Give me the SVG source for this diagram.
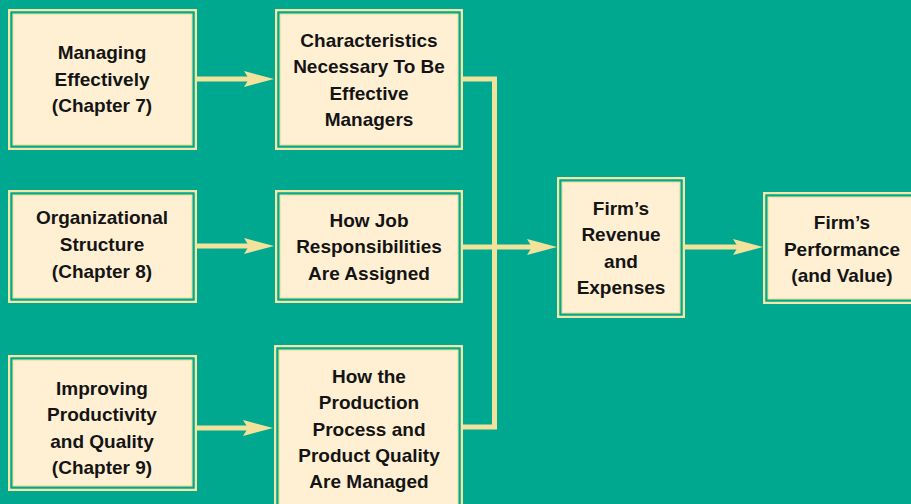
<svg xmlns="http://www.w3.org/2000/svg" width="911" height="504" viewBox="0 0 911 504">
<style>
.bg{fill:#00A88F}
.o{fill:none;stroke:#F5E6A3;stroke-width:2.5}
.m{fill:none;stroke:#00A88F;stroke-width:2}
.i{fill:#FFF0D4;stroke:#F5E6A3;stroke-width:1.5}
.t{font-family:"Liberation Sans",Arial,sans-serif;font-weight:bold;font-size:19px;fill:#141414;text-anchor:middle}
.c{fill:none;stroke:#F3E29C;stroke-width:5}
</style>
<defs>
<marker id="ah" viewBox="0 0 30 16" refX="5" refY="8" markerWidth="30" markerHeight="16" markerUnits="userSpaceOnUse" orient="auto">
<path d="M0,0 L30,8 L0,16 L5,8 Z" fill="#F3E29C"/>
</marker>
</defs>
<rect class="bg" x="0" y="0" width="911" height="504"/>

<g id="connectors">
<line class="c" x1="197" y1="79" x2="249" y2="79" marker-end="url(#ah)"/>
<line class="c" x1="197" y1="246" x2="249" y2="246" marker-end="url(#ah)"/>
<line class="c" x1="197" y1="428" x2="248" y2="428" marker-end="url(#ah)"/>
<polyline class="c" points="463,79 494.5,79 494.5,427 463,427"/>
<line class="c" x1="463" y1="247" x2="532" y2="247" marker-end="url(#ah)"/>
<line class="c" x1="685" y1="247" x2="738" y2="247" marker-end="url(#ah)"/>
</g>

<g id="managing">
<rect class="o" x="9.25" y="10.25" width="186.5" height="138.5"/>
<rect class="m" x="11.5" y="12.5" width="182" height="134"/>
<rect class="i" x="13.25" y="14.25" width="178.5" height="130.5"/>
<text class="t" x="102" y="59">Managing</text>
<text class="t" x="102" y="86">Effectively</text>
<text class="t" x="102" y="112">(Chapter 7)</text>
</g>

<g id="organizational">
<rect class="o" x="9.25" y="191.25" width="186.5" height="110.5"/>
<rect class="m" x="11.5" y="193.5" width="182" height="106"/>
<rect class="i" x="13.25" y="195.25" width="178.5" height="102.5"/>
<text class="t" x="102" y="224">Organizational</text>
<text class="t" x="102" y="251">Structure</text>
<text class="t" x="102" y="278">(Chapter 8)</text>
</g>

<g id="improving">
<rect class="o" x="9.25" y="356.25" width="186.5" height="133.5"/>
<rect class="m" x="11.5" y="358.5" width="182" height="129"/>
<rect class="i" x="13.25" y="360.25" width="178.5" height="125.5"/>
<text class="t" x="102" y="395">Improving</text>
<text class="t" x="102" y="421">Productivity</text>
<text class="t" x="102" y="448">and Quality</text>
<text class="t" x="102" y="474">(Chapter 9)</text>
</g>

<g id="characteristics">
<rect class="o" x="276.25" y="10.25" width="185.5" height="138.5"/>
<rect class="m" x="278.5" y="12.5" width="181" height="134"/>
<rect class="i" x="280.25" y="14.25" width="177.5" height="130.5"/>
<text class="t" x="369" y="47">Characteristics</text>
<text class="t" x="369" y="73">Necessary To Be</text>
<text class="t" x="369" y="100">Effective</text>
<text class="t" x="369" y="126">Managers</text>
</g>

<g id="howjob">
<rect class="o" x="276.25" y="191.25" width="185.5" height="110.5"/>
<rect class="m" x="278.5" y="193.5" width="181" height="106"/>
<rect class="i" x="280.25" y="195.25" width="177.5" height="102.5"/>
<text class="t" x="369" y="227">How Job</text>
<text class="t" x="369" y="253">Responsibilities</text>
<text class="t" x="369" y="280">Are Assigned</text>
</g>

<g id="production">
<rect class="o" x="275.25" y="346.25" width="186.5" height="170"/>
<rect class="m" x="277.5" y="348.5" width="182" height="170"/>
<rect class="i" x="279.25" y="350.25" width="178.5" height="170"/>
<text class="t" x="369" y="383">How the</text>
<text class="t" x="369" y="409">Production</text>
<text class="t" x="369" y="436">Process and</text>
<text class="t" x="369" y="462">Product Quality</text>
<text class="t" x="369" y="488">Are Managed</text>
</g>

<g id="revenue">
<rect class="o" x="558.25" y="178.25" width="125.5" height="138.5"/>
<rect class="m" x="560.5" y="180.5" width="121" height="134"/>
<rect class="i" x="562.25" y="182.25" width="117.5" height="130.5"/>
<text class="t" x="621" y="215">Firm’s</text>
<text class="t" x="621" y="241">Revenue</text>
<text class="t" x="621" y="268">and</text>
<text class="t" x="621" y="294">Expenses</text>
</g>

<g id="performance">
<rect class="o" x="764.25" y="193.25" width="170" height="109.5"/>
<rect class="m" x="766.5" y="195.5" width="170" height="105"/>
<rect class="i" x="768.25" y="197.25" width="170" height="101.5"/>
<text class="t" x="842" y="229">Firm’s</text>
<text class="t" x="842" y="256">Performance</text>
<text class="t" x="842" y="282">(and Value)</text>
</g>
</svg>
